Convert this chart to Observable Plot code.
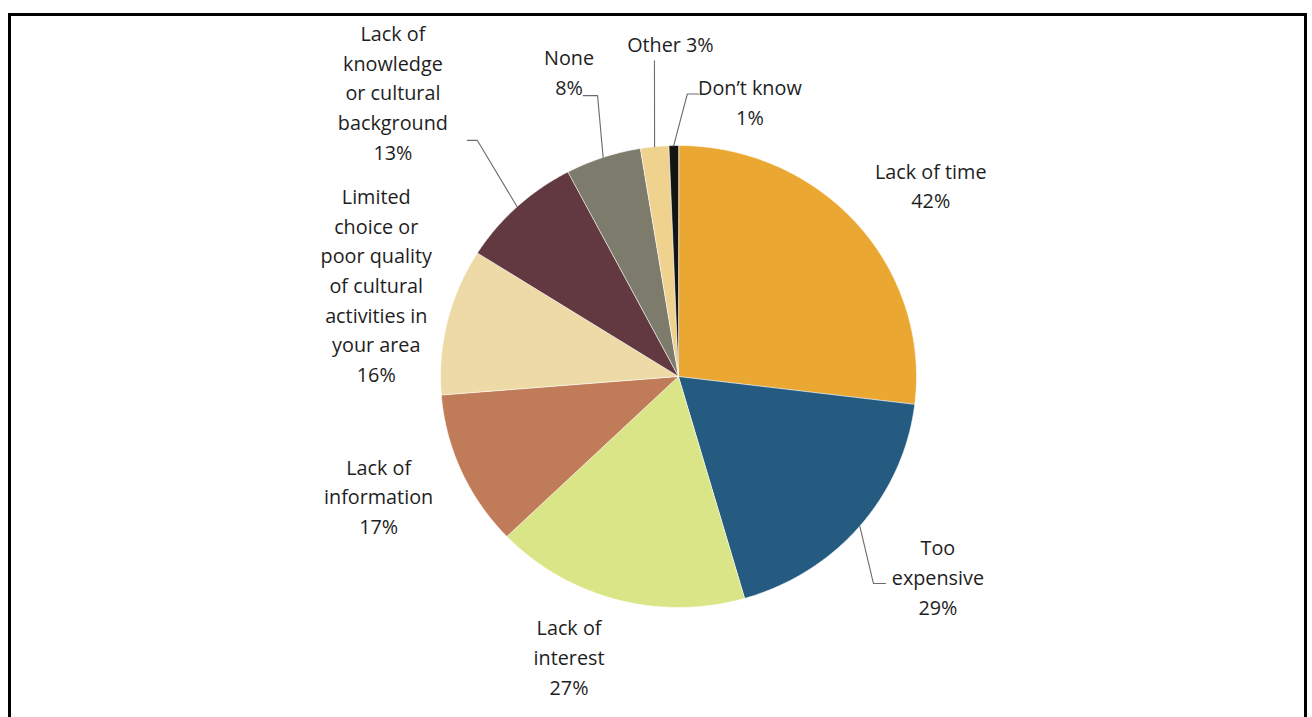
<!DOCTYPE html>
<html>
<head>
<meta charset="utf-8">
<script src="https://cdn.jsdelivr.net/npm/d3@7"></script>
<script src="https://cdn.jsdelivr.net/npm/@observablehq/plot@0.6"></script>
<style>
  html, body { margin: 0; padding: 0; background: #fff; width: 1312px; height: 717px; overflow: hidden; }
  #wrap { position: relative; width: 1312px; height: 717px; }
  #frame { position: absolute; left: 8px; top: 13px; width: 1299px; height: 760px; border: 3px solid #000; box-sizing: border-box; }
  #chart { position: absolute; left: 0; top: 0; }
</style>
</head>
<body>
<div id="wrap"><div id="frame"></div><div id="chart"></div></div>
<script>
// ---- data ----
const categories = ["Lack of time", "Too expensive", "Lack of interest", "Lack of information",
  "Limited choice or poor quality of cultural activities in your area",
  "Lack of knowledge or cultural background", "None", "Other", "Don't know"];
const values = [42, 29, 27, 17, 16, 13, 8, 3, 1];
const labelTexts = [
  "Lack of time\n42%",
  "Too\nexpensive\n29%",
  "Lack of\ninterest\n27%",
  "Lack of\ninformation\n17%",
  "Limited\nchoice or\npoor quality\nof cultural\nactivities in\nyour area\n16%",
  "Lack of\nknowledge\nor cultural\nbackground\n13%",
  "None\n8%",
  "Other 3%",
  "Don\u2019t know\n1%"
];
const colors = ["#EAA731", "#255B81", "#D9E586", "#C07C58", "#EEDAA7", "#623940", "#7D7B6B", "#EED28E", "#141414"];

// ---- layout (pie units: radius = 1) ----
const labelX = [1.06, 1.09, -0.46, -1.26, -1.27, -1.20, -0.46, -0.034, 0.30];
const labelY = [0.833, -0.862, -1.207, -0.512, 0.403, 1.236, 1.325, 1.446, 1.195];
// leader lines: elbow (x,y) and end x (horizontal segment); null = no leader
const leaders = [null, [0.819, -0.896, 0.87], null, null, null,
  [-0.845, 1.022, -0.887], [-0.34, 1.216, -0.40], [-0.101, 1.367, null], [0.037, 1.223, 0.084]];

// ---- build slices ----
const arcs = d3.pie().sort(null).value(d => d)(values);
const slicePts = [];
arcs.forEach((a, i) => {
  slicePts.push({cat: categories[i], x: 0, y: 0});
  const n = Math.max(2, Math.ceil((a.endAngle - a.startAngle) / 0.01));
  for (let k = 0; k <= n; k++) {
    const t = a.startAngle + (a.endAngle - a.startAngle) * k / n;
    slicePts.push({cat: categories[i], x: Math.sin(t), y: Math.cos(t)});
  }
});
const leaderPts = [];
arcs.forEach((a, i) => {
  const L = leaders[i];
  if (!L) return;
  const m = (a.startAngle + a.endAngle) / 2;
  leaderPts.push({cat: categories[i], x: Math.sin(m), y: Math.cos(m)});
  leaderPts.push({cat: categories[i], x: L[0], y: L[1]});
  if (L[2] !== null) leaderPts.push({cat: categories[i], x: L[2], y: L[1]});
});
const labels = categories.map((c, i) => ({cat: c, text: labelTexts[i], x: labelX[i], y: labelY[i]}));

// pixel mapping: center (678,376), radii 238 x 231
const W = 1312, H = 717, cx = 678, cy = 376, rx = 238, ry = 231;
const chart = Plot.plot({
  width: W, height: H,
  margin: 0,
  x: {domain: [-cx / rx, (W - cx) / rx], axis: null},
  y: {domain: [-(H - cy) / ry, cy / ry], axis: null},
  color: {domain: categories, range: colors},
  style: {background: "transparent", fontFamily: "'Open Sans', sans-serif"},
  marks: [
    Plot.line(slicePts, {x: "x", y: "y", z: "cat", fill: "cat", stroke: "#ffffff", strokeWidth: 0.6, curve: "linear-closed"}),
    Plot.line(leaderPts, {x: "x", y: "y", z: "cat", stroke: "#6b6b6b", strokeWidth: 1.1}),
    Plot.text(labels, {x: "x", y: "y", text: "text", fontSize: 19.8, lineHeight: 1.5, fill: "#1e1e1e", textAnchor: "middle"})
  ]
});
document.getElementById("chart").appendChild(chart);
</script>
</body>
</html>
